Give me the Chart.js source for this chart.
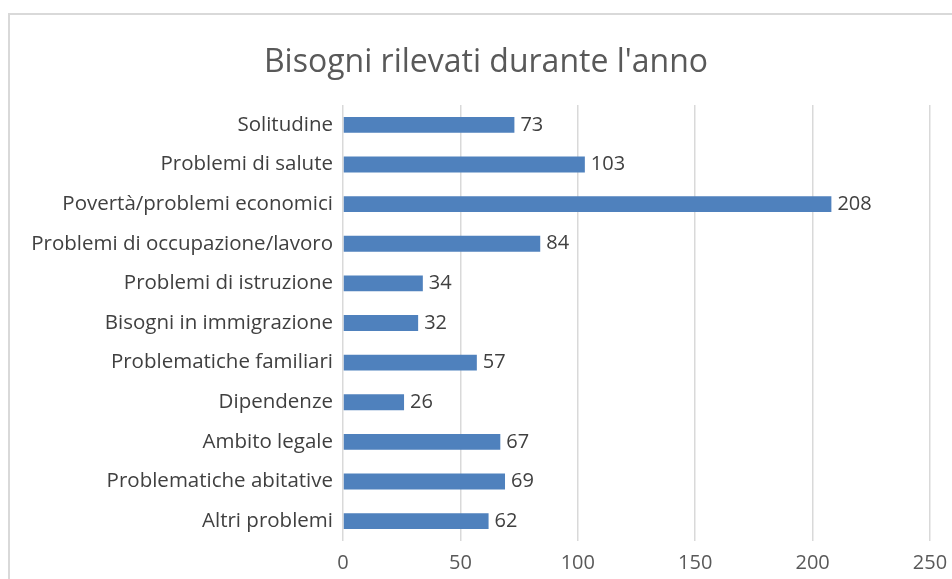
<!DOCTYPE html>
<html>
<head>
<meta charset="utf-8">
<script src="https://cdn.jsdelivr.net/npm/chart.js@4.4.1/dist/chart.umd.min.js"></script>
<style>
  html, body { margin: 0; padding: 0; background: #fff; overflow: hidden; }
  #box { position: absolute; left: 8px; top: 13px; width: 956px; height: 580px;
         border-left: 2px solid #d9d9d9; border-top: 2px solid #d9d9d9; }
  canvas { display: block; }
</style>
</head>
<body>
<div id="box"><canvas id="chart" width="952" height="580"></canvas></div>
<script>
// dati del grafico
const categorie = [
  'Solitudine',
  'Problemi di salute',
  'Povertà/problemi economici',
  'Problemi di occupazione/lavoro',
  'Problemi di istruzione',
  'Bisogni in immigrazione',
  'Problematiche familiari',
  'Dipendenze',
  'Ambito legale',
  'Problematiche abitative',
  'Altri problemi'
];
const valori = [73, 103, 208, 84, 34, 32, 57, 26, 67, 69, 62];
const tickAsseX = [0, 50, 100, 150, 200, 250];
const titolo = "Bisogni rilevati durante l'anno";

const fontFam = '"Open Sans", "Liberation Sans", sans-serif';

// titolo centrato su tutta la larghezza del riquadro
const titoloCentrato = {
  id: 'titoloCentrato',
  afterDraw(chart) {
    const ctx = chart.ctx;
    ctx.save();
    ctx.font = '32px ' + fontFam;
    ctx.fillStyle = '#595959';
    ctx.textAlign = 'center';
    ctx.textBaseline = 'middle';
    ctx.fillText(titolo, chart.width / 2, 48);
    ctx.restore();
  }
};

// etichette dei valori a fine barra
const etichetteValori = {
  id: 'etichetteValori',
  afterDatasetsDraw(chart) {
    const ctx = chart.ctx;
    const meta = chart.getDatasetMeta(0);
    ctx.save();
    ctx.font = '20px ' + fontFam;
    ctx.fillStyle = '#404040';
    ctx.textAlign = 'left';
    ctx.textBaseline = 'middle';
    meta.data.forEach((bar, i) => {
      ctx.fillText(String(valori[i]), bar.x + 6, bar.y);
    });
    ctx.restore();
  }
};

new Chart(document.getElementById('chart').getContext('2d'), {
  type: 'bar',
  data: {
    labels: categorie,
    datasets: [{
      data: valori,
      backgroundColor: '#4f81bd',
      barPercentage: 0.8,
      categoryPercentage: 0.5
    }]
  },
  options: {
    indexAxis: 'y',
    responsive: false,
    animation: false,
    layout: { padding: { left: 0, right: 32, top: 90, bottom: 10 } },
    plugins: {
      legend: { display: false },
      tooltip: { enabled: false },
      title: { display: false }
    },
    scales: {
      x: {
        min: 0,
        max: 250,
        afterBuildTicks(scale) {
          scale.ticks = tickAsseX.map(v => ({ value: v }));
        },
        grid: { color: '#d9d9d9', lineWidth: 1.5, drawTicks: false },
        border: { display: false },
        ticks: {
          color: '#595959',
          font: { family: fontFam, size: 20 },
          padding: 10
        }
      },
      y: {
        afterFit(scale) { scale.width = 333; },
        grid: { display: false },
        border: { display: false },
        ticks: {
          color: '#404040',
          font: { family: fontFam, size: 20.5 },
          padding: 2
        }
      }
    }
  },
  plugins: [etichetteValori, titoloCentrato]
});
</script>
</body>
</html>
